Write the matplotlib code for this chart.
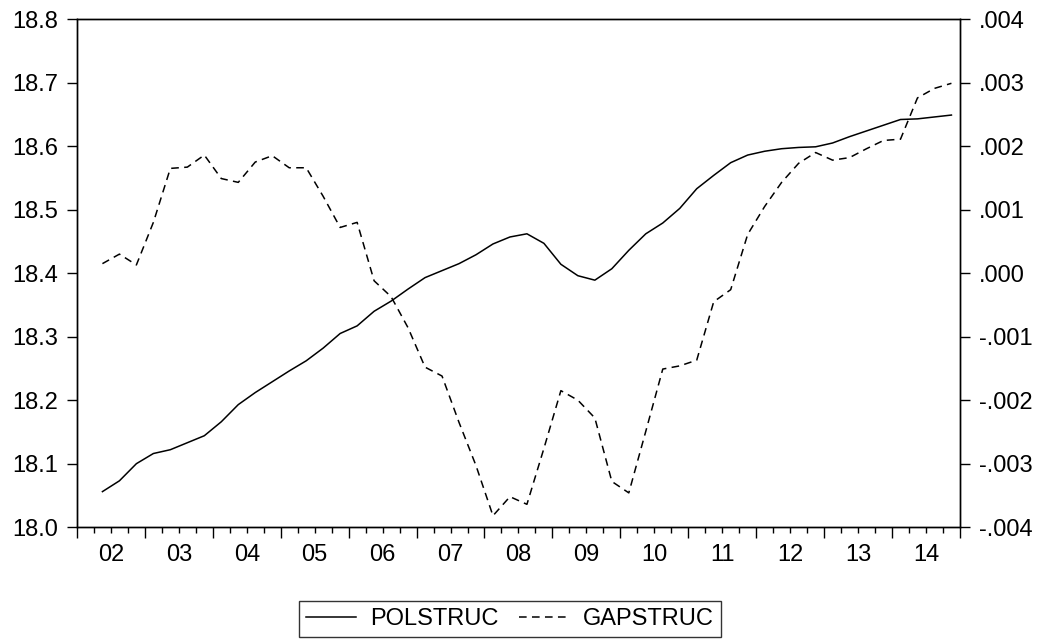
import numpy as np
import matplotlib.pyplot as plt
from matplotlib.ticker import MultipleLocator, FuncFormatter

plt.rcParams['font.family'] = ['Liberation Sans', 'DejaVu Sans']
plt.rcParams['font.size'] = 17

# quarterly series, 2002Q2 - 2014Q4
start_year, start_q = 2002, 2
polstruc = [18.056, 18.073, 18.100, 18.116, 18.122, 18.133, 18.144, 18.166, 18.193,
            18.212, 18.229, 18.246, 18.262, 18.282, 18.305, 18.317, 18.340, 18.356,
            18.375, 18.393, 18.404, 18.415, 18.429, 18.446, 18.457, 18.462, 18.447,
            18.414, 18.396, 18.389, 18.407, 18.436, 18.462, 18.479, 18.502, 18.533,
            18.554, 18.574, 18.586, 18.592, 18.596, 18.598, 18.599, 18.605, 18.615,
            18.624, 18.633, 18.642, 18.643, 18.646, 18.649]
gapstruc = [0.00015, 0.00030, 0.00013, 0.00080, 0.00165, 0.00167, 0.00186, 0.00149,
            0.00143, 0.00175, 0.00185, 0.00166, 0.00166, 0.00121, 0.00072, 0.00080,
            -0.00012, -0.00037, -0.00086, -0.00148, -0.00162, -0.00235, -0.00303,
            -0.00382, -0.00352, -0.00364, -0.00276, -0.00185, -0.00200, -0.00228,
            -0.00328, -0.00346, -0.00249, -0.00151, -0.00146, -0.00137, -0.00045,
            -0.00026, 0.00061, 0.00105, 0.00143, 0.00173, 0.00190, 0.00178, 0.00182,
            0.00196, 0.00209, 0.00211, 0.00276, 0.00291, 0.00299]

# each observation sits in the middle of its quarter
n = len(polstruc)
t = start_year + (start_q - 1) / 4 + 0.125 + np.arange(n) / 4

fig = plt.figure(figsize=(10.4, 6.39), dpi=100)
ax = fig.add_axes([0.074, 0.175, 0.849, 0.795])
ax2 = ax.twinx()

l1, = ax.plot(t, polstruc, color='black', lw=1.1, label='POLSTRUC')
l2, = ax2.plot(t, gapstruc, color='black', lw=1.1, dashes=(5, 3.5), label='GAPSTRUC')

ax.set_xlim(2002, 2015)
ax.set_ylim(18.0, 18.8)
ax2.set_ylim(-0.004, 0.004)

# long ticks at year boundaries, short ones each quarter, labels mid-year
ax.xaxis.set_major_locator(MultipleLocator(1))
ax.xaxis.set_minor_locator(MultipleLocator(0.25))
ax.xaxis.set_major_formatter(FuncFormatter(lambda v, p: ''))
ax.xaxis.set_minor_formatter(FuncFormatter(
    lambda v, p: f'{int(v) % 100:02d}' if abs(v - int(v) - 0.5) < 1e-6 else ''))
ax.tick_params(axis='x', which='major', length=8, width=1, direction='out', top=False)
ax.tick_params(axis='x', which='minor', length=4.3, width=1, direction='out', pad=7.5, top=False)

ax.yaxis.set_major_locator(MultipleLocator(0.1))
ax.yaxis.set_major_formatter(FuncFormatter(lambda v, p: f'{v:.1f}'))
ax.tick_params(axis='y', length=7.2, width=1, pad=6.5)

ax2.yaxis.set_major_locator(MultipleLocator(0.001))
ax2.yaxis.set_major_formatter(FuncFormatter(
    lambda v, p: f'{v:.3f}'.replace('0.', '.') if abs(v) > 1e-9 else '.000'))
ax2.tick_params(axis='y', length=7.2, width=1, pad=6.3)

for a in (ax, ax2):
    for s in a.spines.values():
        s.set_linewidth(1.0)

leg = fig.legend([l1, l2], ['POLSTRUC', 'GAPSTRUC'], loc='center',
                 bbox_to_anchor=(0.4904, 0.031), ncol=2, frameon=True,
                 fancybox=False, edgecolor='black', handlelength=2.1,
                 handletextpad=0.6, columnspacing=0.9, borderpad=0.3)
leg.get_frame().set_linewidth(1.0)

fig.savefig('out.png', dpi=100)
